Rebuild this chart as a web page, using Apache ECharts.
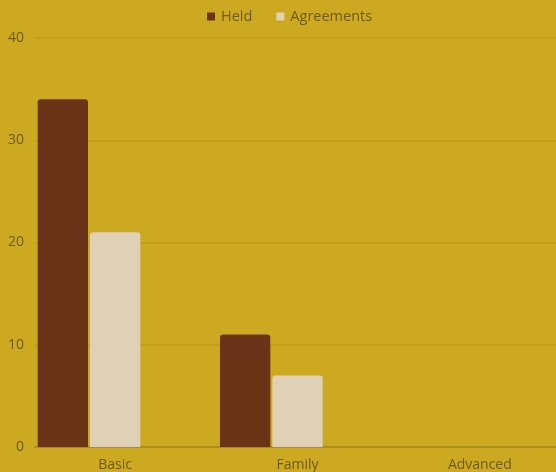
<!DOCTYPE html>
<html>
<head>
<meta charset="utf-8">
<script src="https://cdn.jsdelivr.net/npm/echarts@6/dist/echarts.min.js"></script>
<style>html,body{margin:0;padding:0;background:#CDA922;overflow:hidden;}#c{width:580px;height:472px;}</style>
</head>
<body>
<div id="c"></div>
<script>
const categories = ['Basic', 'Family', 'Advanced'];
const held = [34, 11, 0];
const agreements = [21, 7, 0];
const third = [0, 0, 0];
const yTicks = [0, 10, 20, 30, 40];

const chart = echarts.init(document.getElementById('c'));
chart.setOption({
  backgroundColor: '#CDA922',
  textStyle: { fontFamily: 'Open Sans' },
  legend: {
    data: ['Held', 'Agreements'],
    top: 4,
    left: 202,
    itemWidth: 8, itemHeight: 8, itemGap: 24,
    icon: 'rect',
    textStyle: { color: '#6E5A1A', fontSize: 14.5, fontFamily: 'Open Sans', padding: [0, 0, 0, 1] }
  },
  grid: [
    { left: 24, top: 38, bottom: 25, width: 547 },
    { left: 35, top: 38, bottom: 25, right: 0 }
  ],
  xAxis: [
    {
      type: 'category', gridIndex: 0,
      data: categories,
      axisLine: { show: false },
      axisTick: { show: false },
      axisLabel: { color: '#6E5A1A', fontSize: 14, margin: 11, fontFamily: 'Open Sans' }
    },
    {
      type: 'value', gridIndex: 1, min: 0, max: 1,
      axisLine: { show: true, lineStyle: { color: '#A5861A', width: 1.5 } },
      axisTick: { show: false }, axisLabel: { show: false }, splitLine: { show: false }
    }
  ],
  yAxis: [
    {
      type: 'value', gridIndex: 0, min: 0, max: 40, interval: 10,
      axisLine: { show: false }, axisTick: { show: false },
      splitLine: { show: false },
      axisLabel: { color: '#6E5A1A', fontSize: 14, margin: 0, fontFamily: 'Open Sans',
        formatter: v => yTicks.includes(v) ? String(v) : '' }
    },
    {
      type: 'value', gridIndex: 1, min: 0, max: 40, interval: 10,
      axisLine: { show: false }, axisTick: { show: false }, axisLabel: { show: false },
      splitLine: { lineStyle: { color: '#BE9C1E', width: 1.5 } }
    }
  ],
  series: [
    { name: 'Held', type: 'bar', data: held, barGap: '4%', barCategoryGap: '15%',
      z: 3, itemStyle: { color: '#6B3419', borderRadius: [3,3,0,0] } },
    { name: 'Agreements', type: 'bar', data: agreements,
      z: 3, itemStyle: { color: '#E0D0B6', borderRadius: [3,3,0,0] } },
    { name: 'Other', type: 'bar', data: third,
      itemStyle: { color: '#CDA922' } }
  ]
});
</script>
</body>
</html>
